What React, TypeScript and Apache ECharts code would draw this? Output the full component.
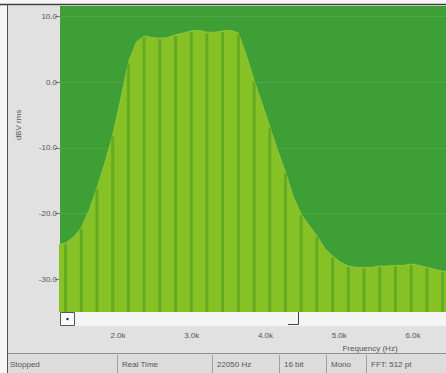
import React, { useEffect, useRef } from "react";
import * as echarts from "echarts";

// Frequencies (Hz) of the spectrum display points
const freqs = [
  1182.5, 1289, 1395.5, 1502, 1608.5, 1715, 1821.5, 1928, 2034.5, 2141,
  2247.5, 2354, 2460.5, 2567, 2673.5, 2780, 2886.5, 2993, 3099.5, 3206,
  3312.5, 3419, 3525.5, 3632, 3738.5, 3845, 3951.5, 4058, 4164.5, 4271,
  4377.5, 4484, 4590.5, 4697, 4803.5, 4910, 5016.5, 5123, 5229.5, 5336,
  5442.5, 5549, 5655.5, 5762, 5868.5, 5975, 6081.5, 6188, 6294.5, 6401,
  6507.5,
];
// Level in dBV rms at each frequency
const levels = [
  -24.8, -24.5, -23.6, -22.2, -19.5, -16.1, -12.3, -8.1, -2.7, 3.0,
  6.1, 7.0, 6.8, 6.7, 6.8, 7.2, 7.5, 7.8, 7.9, 7.6,
  7.6, 7.8, 7.9, 7.5, 4.1, 0.3, -3.2, -6.8, -10.4, -13.7,
  -17.5, -20.1, -21.8, -23.4, -25.3, -26.5, -27.4, -28.0, -28.2, -28.2,
  -28.2, -28.0, -28.0, -27.9, -27.9, -27.7, -27.9, -28.2, -28.5, -28.8,
  -28.9,
];
const yTickValues = [-30, -20, -10, 0, 10];
const yTickLabels = ["-30.0", "-20.0", "-10.0", "0.0", "10.0"];
const xTickValues = [2000, 3000, 4000, 5000, 6000];
const xTickLabels = ["2.0k", "3.0k", "4.0k", "5.0k", "6.0k"];
const statusItems = ["Stopped", "Real Time", "22050 Hz", "16 bit", "Mono", "FFT: 512 pt"];

const Y_MIN = -35;
const Y_MAX = 11.6;
const X_MIN = 1213.6;
const X_MAX = 6447.5;

export default function App() {
  const ref = useRef<HTMLDivElement>(null);
  useEffect(() => {
    if (!ref.current) return;
    const chart = echarts.init(ref.current, undefined, { renderer: "svg" });
    const pts = freqs.map((f, i) => [f, levels[i]]);
    const stripePts = pts.filter((_, i) => i % 2 === 1);
    const statusX = [10, 122, 217, 284, 331, 371];
    const sepX = [117.5, 212.5, 279.5, 326.5, 366.5];
    const font = "Liberation Sans, Arial, sans-serif";
    chart.setOption({
      animation: false,
      backgroundColor: "#f6f6f6",
      grid: {
        left: 60,
        right: 0,
        top: 6,
        bottom: 61,
        show: true,
        backgroundColor: "#3f9f37",
        borderWidth: 0,
      },
      xAxis: {
        type: "value",
        min: X_MIN,
        max: X_MAX,
        offset: 14,
        axisLine: { show: false },
        axisTick: {
          show: true,
          customValues: xTickValues,
          length: 4,
          lineStyle: { color: "#777" },
        },
        axisLabel: {
          customValues: xTickValues,
          formatter: (v: number) => xTickLabels[xTickValues.indexOf(v)] ?? "",
          fontSize: 8,
          color: "#555",
          margin: 5,
          fontFamily: font,
        },
        splitLine: { show: false },
      },
      yAxis: {
        type: "value",
        min: Y_MIN,
        max: Y_MAX,
        axisLine: { show: false },
        axisTick: {
          show: true,
          customValues: yTickValues,
          length: 5,
          lineStyle: { color: "#777" },
        },
        axisLabel: {
          customValues: yTickValues,
          formatter: (v: number) => yTickLabels[yTickValues.indexOf(v)] ?? "",
          fontSize: 8,
          color: "#555",
          margin: 3,
          fontFamily: font,
        },
        splitLine: {
          show: true,
          lineStyle: { color: "rgba(255,255,255,0.08)", width: 1 },
        },
      },
      series: [
        {
          type: "line",
          data: pts,
          showSymbol: false,
          symbol: "none",
          lineStyle: { color: "#8cc63a", width: 1 },
          areaStyle: { color: "#86c226", opacity: 1, origin: "start" },
          clip: true,
          z: 2,
        },
        {
          type: "custom",
          data: stripePts,
          clip: true,
          z: 3,
          renderItem: (params: any, api: any) => {
            const x = api.value(0);
            const v = api.value(1);
            const top = api.coord([x, v]);
            const bot = api.coord([x, Y_MIN]);
            return {
              type: "rect",
              shape: { x: top[0] - 1.5, y: top[1] + 1, width: 3, height: bot[1] - top[1] - 1 },
              style: { fill: "#66aa22" },
            };
          },
        },
      ],
      graphic: [
        { type: "rect", z: -10, shape: { x: 8, y: 6, width: 52, height: 347 }, style: { fill: "#e1e1e1" } },
        { type: "rect", z: -10, shape: { x: 8, y: 326, width: 438, height: 27 }, style: { fill: "#e1e1e1" } },
        { type: "rect", z: -10, shape: { x: 60, y: 312, width: 386, height: 14 }, style: { fill: "#f4f4f4" } },
        { type: "rect", z: -10, shape: { x: 8, y: 354, width: 438, height: 19 }, style: { fill: "#dcdcdc" } },
        { type: "line", z: 5, shape: { x1: 8, y1: 353.5, x2: 446, y2: 353.5 }, style: { stroke: "#8e8e8e", lineWidth: 1 } },
        { type: "line", z: 5, shape: { x1: 0, y1: 4.5, x2: 446, y2: 4.5 }, style: { stroke: "#3a3a3a", lineWidth: 1.5 } },
        { type: "line", z: 5, shape: { x1: 7.5, y1: 4, x2: 7.5, y2: 373 }, style: { stroke: "#555", lineWidth: 1 } },
        ...sepX.map((x) => ({
          type: "line",
          z: 5,
          shape: { x1: x, y1: 355, x2: x, y2: 373 },
          style: { stroke: "#a0a0a0", lineWidth: 1 },
        })),
        ...statusItems.map((t, i) => ({
          type: "text",
          z: 6,
          x: statusX[i],
          y: 364,
          style: { text: t, fontSize: 8, fill: "#555", fontFamily: font, align: "left", verticalAlign: "middle" },
        })),
        { type: "rect", z: 6, shape: { x: 60.5, y: 312.5, width: 14, height: 13 }, style: { fill: "#fafafa", stroke: "#555", lineWidth: 1 } },
        { type: "circle", z: 7, shape: { cx: 67.5, cy: 319, r: 1.2 }, style: { fill: "#222" } },
        { type: "polyline", z: 6, shape: { points: [[288, 324.5], [298.5, 324.5], [298.5, 312]] }, style: { stroke: "#444", lineWidth: 1, fill: "none" } },
        {
          type: "text",
          z: 6,
          x: 370,
          y: 348,
          style: { text: "Frequency (Hz)", fontSize: 8, fill: "#555", fontFamily: font, align: "center", verticalAlign: "middle" },
        },
        {
          type: "text",
          z: 6,
          x: 18,
          y: 125,
          rotation: Math.PI / 2,
          style: { text: "dBV rms", fontSize: 8, fill: "#555", fontFamily: font, align: "center", verticalAlign: "middle" },
        },
      ],
    });
    return () => chart.dispose();
  }, []);
  return (
    <div
      ref={ref}
      style={{ position: "fixed", left: 0, top: 0, width: 446, height: 373 }}
    />
  );
}
